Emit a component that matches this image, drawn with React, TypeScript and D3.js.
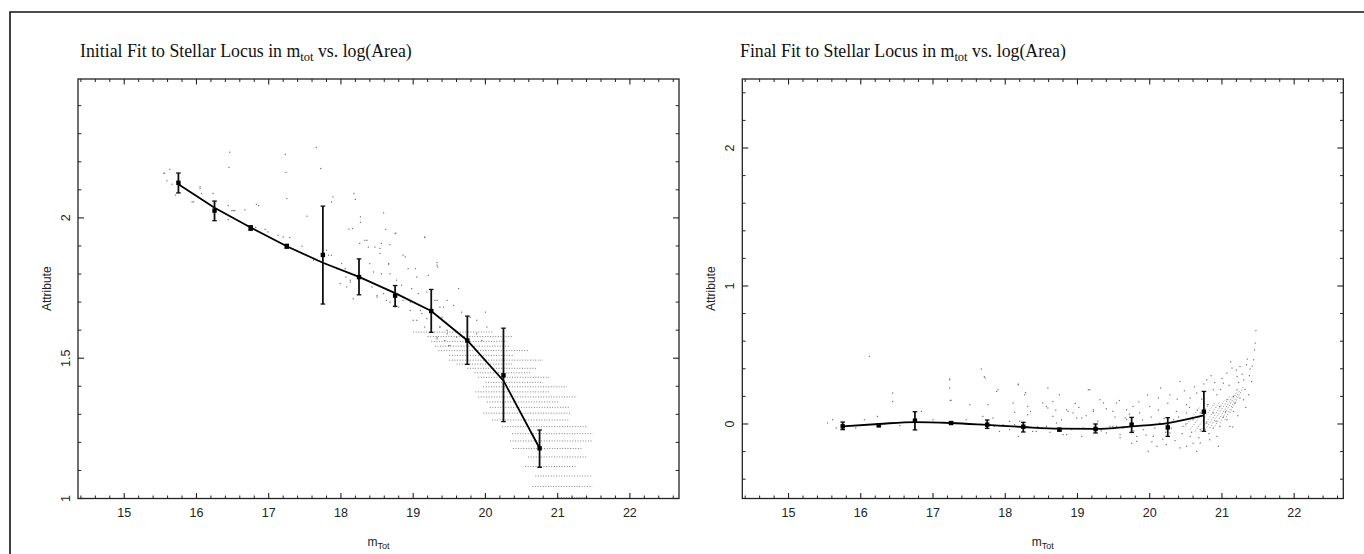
import React from 'react';
import * as d3 from 'd3';

// bin centres (m_tot) used by both fits
const binCenters = [15.75, 16.25, 16.75, 17.25, 17.75, 18.25, 18.75, 19.25, 19.75, 20.25, 20.75];

// initial fit (log area)
const initialMedian = [2.125, 2.026, 1.964, 1.899, 1.868, 1.789, 1.723, 1.668, 1.563, 1.439, 1.179];
const initialErrHi = [2.16, 2.06, 1.972, 1.906, 2.042, 1.854, 1.759, 1.745, 1.65, 1.607, 1.244];
const initialErrLo = [2.089, 1.99, 1.956, 1.892, 1.693, 1.726, 1.685, 1.592, 1.478, 1.274, 1.111];
const initialFit = [2.12, 2.036, 1.966, 1.899, 1.84, 1.79, 1.732, 1.668, 1.563, 1.42, 1.179];

// final fit (residual)
const finalMedian = [-0.017, -0.01, 0.024, 0.007, -0.005, -0.02, -0.041, -0.036, -0.005, -0.025, 0.089];
const finalErrHi = [0.014, -0.002, 0.089, 0.013, 0.029, 0.012, -0.033, 0.0, 0.048, 0.046, 0.236];
const finalErrLo = [-0.041, -0.018, -0.043, 0.001, -0.032, -0.058, -0.049, -0.065, -0.061, -0.09, -0.053];
const finalFit = [-0.017, 0.0, 0.014, 0.007, -0.007, -0.022, -0.034, -0.036, -0.017, 0.007, 0.062];

// sparse objects, [m_tot, attribute]
const initialScatter = [
  [15.55, 2.159], [15.59, 2.132], [15.66, 2.12], [15.71, 2.081], [16.46, 2.234], [16.45, 2.18], [17.23, 2.226],
  [17.24, 2.162], [17.66, 2.251], [17.72, 2.176], [17.25, 2.069], [17.53, 2.006], [17.89, 2.075], [17.87, 2.057],
  [18.18, 2.087], [18.2, 2.066], [18.27, 2.004], [18.27, 1.984], [18.11, 1.96], [18.16, 1.962], [18.59, 2.018],
  [18.62, 1.959], [18.76, 1.946], [18.36, 1.92], [18.54, 1.891], [18.68, 1.905], [19.16, 1.93], [19.33, 1.841],
  [19.34, 1.825], [18.66, 1.835], [18.89, 1.861], [19.21, 1.795], [16.05, 2.105], [16.07, 2.087], [16.23, 2.087],
  [15.96, 2.057], [16.44, 2.044], [16.49, 2.026], [16.53, 2.026], [16.67, 2.029], [16.44, 1.994], [16.86, 2.044],
  [16.82, 1.966], [16.95, 1.959], [16.99, 1.95], [17.13, 1.938], [17.2, 1.932], [17.29, 1.93], [17.46, 1.899],
  [17.62, 1.849], [17.8, 1.885], [17.83, 1.867], [17.94, 1.819], [17.99, 1.766], [18.13, 1.778], [18.08, 1.754],
  [18.17, 1.712], [18.43, 1.754], [18.5, 1.723], [18.59, 1.73], [18.68, 1.7], [18.8, 1.682], [18.86, 1.706],
  [18.96, 1.67], [19.05, 1.635], [19.12, 1.659], [19.33, 1.706], [19.42, 1.682], [19.4, 1.646], [19.47, 1.587],
  [19.49, 1.545], [19.33, 1.569], [19.37, 1.611], [15.56, 2.159], [15.63, 2.173], [15.94, 2.057], [16.05, 2.111],
  [16.51, 2.026], [16.83, 2.048], [17.87, 1.867], [18.01, 1.837], [18.06, 1.819], [18.07, 1.789], [18.13, 1.771],
  [18.26, 1.909], [18.33, 1.92], [18.38, 1.896], [18.47, 1.896], [18.54, 1.873], [18.56, 1.909], [18.66, 1.837],
  [18.75, 1.944], [19.16, 1.932], [18.4, 1.837], [18.45, 1.807], [18.56, 1.801], [18.68, 1.801], [18.86, 1.867],
  [18.93, 1.819], [19.03, 1.819], [19.05, 1.789], [18.77, 1.778], [18.84, 1.76], [18.98, 1.748], [19.07, 1.73],
  [19.19, 1.736], [19.33, 1.831], [19.3, 1.706], [19.47, 1.706], [19.56, 1.688], [19.63, 1.748], [19.37, 1.682],
  [19.67, 1.664], [19.79, 1.646], [19.88, 1.635], [20.0, 1.664], [19.47, 1.599], [19.6, 1.575], [19.44, 1.563],
  [19.51, 1.545], [19.88, 1.587], [19.95, 1.563], [20.02, 1.611], [18.5, 1.718], [18.63, 1.706], [18.75, 1.682],
  [18.96, 1.7], [19.1, 1.67], [19.19, 1.641], [19.0, 1.635], [19.16, 1.611], [19.37, 1.611], [19.33, 1.575],
];

// discrete log(area) rows of faint objects: [level, m_tot from, m_tot to]
const initialRows = [
  [1.593, 19.0, 20.11], [1.577, 19.2, 20.38], [1.56, 19.25, 20.3], [1.543, 19.3, 20.34], [1.527, 19.35, 20.59],
  [1.51, 19.5, 20.38], [1.493, 19.5, 20.8], [1.479, 19.6, 20.38], [1.464, 19.75, 20.71], [1.448, 19.85, 20.62],
  [1.432, 19.9, 20.9], [1.414, 20.0, 20.8], [1.398, 19.97, 21.13], [1.38, 19.86, 20.9], [1.362, 19.9, 21.27],
  [1.344, 20.02, 21.03], [1.325, 20.06, 21.17], [1.304, 19.97, 21.17], [1.28, 20.09, 21.17], [1.256, 20.23, 21.41],
  [1.231, 20.37, 21.49], [1.205, 20.34, 21.49], [1.178, 20.38, 21.35], [1.148, 20.59, 21.41], [1.114, 20.55, 21.27],
  [1.08, 20.69, 21.48], [1.043, 20.65, 21.48], [1.004, 21.01, 21.41],
];

const finalScatter = [
  [15.54, 0.007], [15.61, 0.031], [15.66, -0.029], [16.05, 0.031], [15.93, -0.029], [16.23, 0.055], [16.44, 0.224],
  [16.44, 0.163], [16.54, -0.012], [16.84, 0.091], [17.0, 0.031], [17.23, 0.32], [17.23, 0.26], [17.24, 0.171],
  [17.51, 0.14], [17.46, 0.031], [17.88, 0.236], [17.71, 0.344], [17.69, 0.055], [17.92, -0.054], [18.18, 0.284],
  [18.11, 0.152], [18.27, 0.212], [18.31, 0.067], [18.38, -0.054], [18.52, 0.152], [18.59, 0.116], [18.66, 0.055],
  [18.71, 0.007], [18.8, -0.077], [18.55, -0.029], [18.87, 0.091], [18.99, 0.043], [19.08, -0.029], [19.17, 0.248],
  [19.22, 0.103], [19.36, 0.152], [19.49, 0.091], [19.45, -0.017], [19.59, -0.077], [19.66, 0.043], [19.77, 0.127],
  [19.82, -0.09], [18.06, 0.019], [18.13, -0.005], [17.85, -0.017], [16.12, 0.49],
  [17.67, 0.398], [17.23, 0.325], [17.72, 0.333], [17.9, 0.248], [18.18, 0.289], [18.28, 0.228], [17.25, 0.171],
  [17.76, 0.14], [18.13, 0.084], [18.31, 0.127], [18.59, 0.26], [18.75, 0.212], [18.57, 0.127], [18.66, 0.163],
  [18.85, 0.103], [18.94, 0.08], [19.15, 0.248], [19.06, 0.043], [19.22, 0.091], [18.18, -0.09], [18.43, -0.054],
  [18.85, -0.077], [19.06, -0.09], [18.57, -0.017], [18.06, -0.041], [17.83, 0.043], [17.97, -0.005],
  [19.31, 0.176], [19.54, 0.152], [19.68, 0.103], [19.86, 0.08], [20.0, 0.127], [20.12, 0.188], [20.28, 0.212],
  [20.42, 0.308], [20.51, 0.14], [20.56, 0.188], [20.65, 0.224], [20.79, 0.32], [20.88, 0.248], [20.93, 0.212],
  [21.02, 0.296], [21.07, 0.369], [21.14, 0.405], [21.21, 0.344], [21.25, 0.416], [21.3, 0.32], [21.34, 0.429],
  [21.39, 0.398], [21.44, 0.465], [21.45, 0.537], [21.46, 0.586], [21.47, 0.677], [21.41, 0.308], [21.37, 0.212],
  [21.3, 0.176], [21.16, 0.091], [21.07, 0.031], [20.97, -0.017], [20.93, -0.09], [20.95, -0.162], [20.83, -0.114],
  [20.7, -0.137], [20.65, -0.198], [20.51, -0.162], [20.42, -0.173], [20.23, -0.15], [20.1, -0.162], [19.98, -0.198],
  [19.82, -0.126], [19.59, -0.101], [19.4, -0.065], [19.49, -0.017], [19.91, -0.041], [20.05, -0.09], [20.14, 0.007],
  [20.33, 0.031], [20.28, -0.065], [20.46, -0.017], [20.6, 0.031], [20.7, 0.08], [20.79, 0.007], [20.88, 0.08],
  [20.97, 0.127], [21.07, 0.176], [21.16, 0.2], [21.21, 0.248], [21.25, 0.188], [21.11, -0.017], [21.15, -0.022],
  [20.7, -0.041], [20.56, -0.09], [19.68, 0.031], [19.54, -0.017], [20.37, 0.091], [20.51, 0.08],
  [19.02, 0.12], [19.12, 0.06], [19.28, 0.02], [19.33, -0.05], [19.4, 0.11], [19.52, 0.05], [19.58, 0.17],
  [19.63, -0.03], [19.72, 0.07], [19.78, -0.05], [19.85, 0.16], [19.9, 0.03], [19.95, -0.08], [20.02, 0.05],
  [20.07, -0.03], [20.12, 0.1], [20.18, -0.11], [20.2, 0.04], [20.25, 0.15], [20.3, -0.03], [20.35, -0.12],
  [20.38, 0.18], [20.4, 0.05], [20.45, -0.07], [20.48, 0.24], [20.5, 0.0], [20.55, 0.12], [20.58, -0.06],
  [20.62, 0.27], [20.66, 0.1], [20.68, -0.1], [20.72, 0.18], [20.75, 0.29], [20.8, 0.14], [20.82, -0.07],
  [20.85, 0.35], [20.9, 0.3], [20.92, 0.02], [20.98, 0.25], [21.0, 0.33], [21.05, 0.09], [21.1, 0.28],
  [21.12, 0.45], [21.18, 0.15], [21.2, 0.39], [21.23, 0.3], [21.28, 0.36], [21.32, 0.25], [21.35, 0.47],
  [21.38, 0.35], [21.42, 0.42], [21.33, 0.12], [21.22, 0.06], [18.2, 0.02], [18.35, 0.09], [18.45, -0.02],
  [18.62, -0.06], [18.7, 0.1], [18.78, 0.03], [18.92, -0.04], [18.97, 0.15], [19.97, 0.21], [20.15, 0.26],
  [20.22, -0.06], [19.75, -0.14], [20.03, -0.13], [20.6, -0.14], [20.88, -0.03], [21.02, 0.05],
];

// diagonal streaks of faint objects: [m0, v0, m1, v1]
const finalStreaks = [
  [20.49, -0.017, 20.7, 0.127], [20.56, -0.041, 20.83, 0.152], [20.63, -0.054, 20.9, 0.152],
  [20.7, -0.054, 20.97, 0.163], [20.77, -0.041, 21.04, 0.176], [20.83, -0.029, 21.11, 0.2],
  [20.9, -0.017, 21.16, 0.212], [20.97, 0.007, 21.21, 0.236], [21.04, 0.031, 21.25, 0.248],
  [21.11, 0.08, 21.3, 0.272],
];

const xDomain = [14.36, 22.68];
const xTicks = [15, 16, 17, 18, 19, 20, 21, 22];
const initialYTicks = [1, 1.5, 2];
const finalYTicks = [0, 1, 2];

const plotTop = 79;
const plotBottom = 498.5;
const plotWidth = 601;
const sans = 'Liberation Sans, Arial, sans-serif';
const serif = 'Liberation Serif, Times New Roman, serif';

function Panel(props) {
  const { left, titleX, titleMain, yDomain, yTicks, yMinor, median, errHi, errLo, fit, dots, rows, streaks, curve } = props;
  const x = d3.scaleLinear().domain(xDomain).range([left, left + plotWidth]);
  const y = d3.scaleLinear().domain(yDomain).range([plotBottom, plotTop]);
  const right = left + plotWidth;

  const xMinor = d3.range(14.4, 22.7, 0.2).map(v => Math.round(v * 10) / 10).filter(v => !xTicks.includes(v));
  const yMinorTicks = d3.range(Math.ceil(yDomain[0] / yMinor) * yMinor, yDomain[1], yMinor)
    .map(v => Math.round(v * 100) / 100)
    .filter(v => !yTicks.includes(v));

  const line = d3.line<number>()
    .x((d, i) => x(binCenters[i]))
    .y(d => y(d))
    .curve(curve);

  return (
    <g>
      <text x={titleX} y={57} fontFamily={serif} fontSize={17.8} fill="#111">
        {titleMain} in m<tspan fontSize={12.5} dy={4}>tot</tspan><tspan dy={-4}> vs. log(Area)</tspan>
      </text>

      {/* faint object rows */}
      {rows && rows.map((r, i) => (
        <line key={'r' + i} x1={x(r[1])} x2={x(r[2])} y1={y(r[0])} y2={y(r[0])}
          stroke="#808080" strokeWidth={1} strokeDasharray="1 1.6" />
      ))}
      {streaks && streaks.map((s, i) => (
        <line key={'s' + i} x1={x(s[0])} y1={y(s[1])} x2={x(s[2])} y2={y(s[3])}
          stroke="#777" strokeWidth={0.9} strokeDasharray="1 1.8" />
      ))}
      {dots.map((d, i) => (
        <rect key={'d' + i} x={x(d[0]) - 0.6} y={y(d[1]) - 0.6} width={1.2} height={1.2} fill="#707070" />
      ))}

      {/* fitted locus */}
      <path d={line(fit)} fill="none" stroke="#000" strokeWidth={1.8} />
      {binCenters.map((m, i) => (
        <g key={'e' + i}>
          <line x1={x(m)} x2={x(m)} y1={y(errHi[i])} y2={y(errLo[i])} stroke="#111" strokeWidth={1.8} />
          <line x1={x(m) - 2.3} x2={x(m) + 2.3} y1={y(errHi[i])} y2={y(errHi[i])} stroke="#111" strokeWidth={1.3} />
          <line x1={x(m) - 2.3} x2={x(m) + 2.3} y1={y(errLo[i])} y2={y(errLo[i])} stroke="#111" strokeWidth={1.3} />
          <rect x={x(m) - 2.2} y={y(median[i]) - 2.2} width={4.4} height={4.4} fill="#000" />
        </g>
      ))}

      {/* frame and ticks */}
      <rect x={left} y={plotTop} width={plotWidth} height={plotBottom - plotTop} fill="none" stroke="#222" strokeWidth={1.3} />
      {xTicks.map(t => (
        <g key={'xt' + t}>
          <line x1={x(t)} x2={x(t)} y1={plotBottom} y2={plotBottom - 5.5} stroke="#222" strokeWidth={1.1} />
          <line x1={x(t)} x2={x(t)} y1={plotTop} y2={plotTop + 5.5} stroke="#222" strokeWidth={1.1} />
          <text x={x(t)} y={517} textAnchor="middle" fontFamily={sans} fontSize={12.5} fill="#222">{t}</text>
        </g>
      ))}
      {xMinor.map(t => (
        <g key={'xm' + t}>
          <line x1={x(t)} x2={x(t)} y1={plotBottom} y2={plotBottom - 3} stroke="#222" strokeWidth={1} />
          <line x1={x(t)} x2={x(t)} y1={plotTop} y2={plotTop + 3} stroke="#222" strokeWidth={1} />
        </g>
      ))}
      {yTicks.map(t => (
        <g key={'yt' + t}>
          <line x1={left} x2={left + 6} y1={y(t)} y2={y(t)} stroke="#222" strokeWidth={1.1} />
          <line x1={right} x2={right - 6} y1={y(t)} y2={y(t)} stroke="#222" strokeWidth={1.1} />
          <text transform={`translate(${left - 8.5},${y(t)}) rotate(-90)`} textAnchor="middle"
            fontFamily={sans} fontSize={12.5} fill="#222">{t}</text>
        </g>
      ))}
      {yMinorTicks.map(t => (
        <g key={'ym' + t}>
          <line x1={left} x2={left + 3.3} y1={y(t)} y2={y(t)} stroke="#222" strokeWidth={1} />
          <line x1={right} x2={right - 3.3} y1={y(t)} y2={y(t)} stroke="#222" strokeWidth={1} />
        </g>
      ))}

      <text transform={`translate(${left - 27},${(plotTop + plotBottom) / 2}) rotate(-90)`} textAnchor="middle"
        fontFamily={sans} fontSize={12} fill="#222">Attribute</text>
      <text x={(left + right) / 2} y={546} textAnchor="middle" fontFamily={sans} fontSize={12} fill="#222">
        m<tspan fontSize={9} dy={3}>Tot</tspan>
      </text>
    </g>
  );
}

export default function App() {
  return (
    <svg width={1364} height={554} style={{ position: 'absolute', left: 0, top: 0, background: '#fff' }}>
      <rect x={0} y={0} width={1364} height={554} fill="#fff" />
      <path d="M10,554 V12 H1364" fill="none" stroke="#111" strokeWidth={1.6} />
      <Panel left={78} titleX={80} titleMain="Initial Fit to Stellar Locus"
        yDomain={[1, 2.495]} yTicks={initialYTicks} yMinor={0.1}
        median={initialMedian} errHi={initialErrHi} errLo={initialErrLo} fit={initialFit}
        dots={initialScatter} rows={initialRows} curve={d3.curveLinear} />
      <Panel left={742.3} titleX={740} titleMain="Final Fit to Stellar Locus"
        yDomain={[-0.54, 2.5]} yTicks={finalYTicks} yMinor={0.2}
        median={finalMedian} errHi={finalErrHi} errLo={finalErrLo} fit={finalFit}
        dots={finalScatter} streaks={finalStreaks} curve={d3.curveMonotoneX} />
    </svg>
  );
}
